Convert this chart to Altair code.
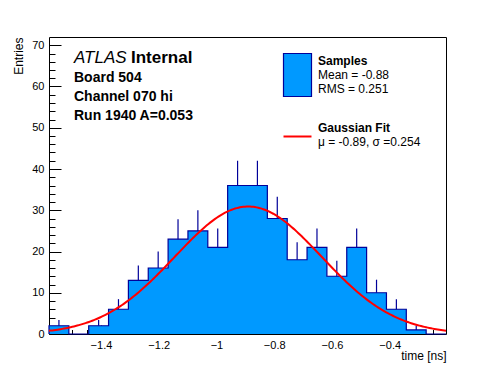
import altair as alt
import pandas as pd
import numpy as np

# ---------------- data ----------------
bin_start = -1.58
bin_width = 0.06875
counts = [2, 0, 2, 6, 13, 16, 23, 25, 21, 36, 36, 28, 18, 21, 14, 21, 10, 6, 1, 0]
x_domain = [-1.58, -0.205]
y_domain = [0, 72]

x_major = [-1.4, -1.2, -1.0, -0.8, -0.6, -0.4]
x_minor = [round(-1.55 + 0.05 * i, 2) for i in range(27)]
y_major = [0, 10, 20, 30, 40, 50, 60, 70]
y_minor = list(range(0, 72, 2))

fit_mu = -0.89
fit_sigma = 0.254
fit_amp = 30.9

header_lines = ["Board 504", "Channel 070 hi", "Run 1940 A=0.053"]
legend_hist = ["Samples", "Mean = -0.88", "RMS = 0.251"]
legend_fit = ["Gaussian Fit", "\u03bc = -0.89, \u03c3 =0.254"]

# ---------------- tables ----------------
n = len(counts)
edges = [bin_start + bin_width * i for i in range(n + 1)]
hist = pd.DataFrame({
    "lo": edges[:-1],
    "hi": edges[1:],
    "mid": [(a + b) / 2 for a, b in zip(edges[:-1], edges[1:])],
    "count": counts,
})
hist["err_top"] = hist["count"] + np.sqrt(hist["count"])

# area (step-after) table: one point per bin edge
area_df = pd.DataFrame({"x": edges, "y": counts + [counts[-1]]})

# outline table: starts from zero at the left edge, drops to zero at the right
step = pd.DataFrame({
    "x": [edges[0]] + edges[:-1] + [edges[-1]],
    "y": [0] + counts + [0],
    "o": list(range(n + 2)),
})

gx = np.linspace(x_domain[0], x_domain[1], 240)
gauss = pd.DataFrame({
    "x": gx,
    "y": fit_amp * np.exp(-((gx - fit_mu) ** 2) / (2 * fit_sigma ** 2)),
})

W, H = 397, 297
FONT = "Liberation Sans"
BLUE = "#0099ff"
DARK = "#000099"

xs = alt.Scale(domain=x_domain, nice=False, zero=False)
ys = alt.Scale(domain=y_domain, nice=False, zero=True)

# fill (single step area) + label axes
fill = alt.Chart(area_df).mark_area(color=BLUE, interpolate="step-after", opacity=1).encode(
    x=alt.X("x:Q", scale=xs, axis=alt.Axis(
        orient="bottom", values=x_major, format="~g", ticks=False, tickSize=0,
        domain=False, grid=False, labelFont=FONT, labelFontSize=11,
        labelColor="black", labelPadding=5,
        title="time [ns]", titleFont=FONT, titleFontSize=12, titleFontWeight="normal",
        titleColor="black", titleX=W, titleY=25, titleAlign="right",
        titleBaseline="alphabetic")),
    y=alt.Y("y:Q", scale=ys, axis=alt.Axis(
        orient="left", values=y_major, ticks=False, tickSize=0, domain=False,
        grid=False, labelFont=FONT, labelFontSize=11, labelColor="black",
        labelPadding=5,
        title="Entries", titleFont=FONT, titleFontSize=12, titleFontWeight="normal",
        titleColor="black", titleX=-27, titleY=0, titleAlign="right",
        titleAngle=270, titleBaseline="alphabetic")),
)

# outline + major inward ticks
outline = alt.Chart(step).mark_line(
    color=DARK, strokeWidth=1.2, interpolate="step-after").encode(
    x=alt.X("x:Q", scale=xs, axis=alt.Axis(
        orient="top", offset=-H, values=x_major, labels=False, domain=False,
        grid=False, tickSize=9, tickColor="black", title=None)),
    y=alt.Y("y:Q", scale=ys, axis=alt.Axis(
        orient="right", offset=-W, values=y_major, labels=False, domain=False,
        grid=False, tickSize=12, tickColor="black", title=None)),
    order="o:Q",
)

# error bars + minor inward ticks
errs = alt.Chart(hist[hist["count"] > 0]).mark_rule(color=DARK, strokeWidth=1.2).encode(
    x=alt.X("mid:Q", scale=xs, axis=alt.Axis(
        orient="top", offset=-H, values=x_minor, labels=False, domain=False,
        grid=False, tickSize=4.5, tickColor="black", title=None)),
    y=alt.Y("count:Q", scale=ys, axis=alt.Axis(
        orient="right", offset=-W, values=y_minor, labels=False, domain=False,
        grid=False, tickSize=6, tickColor="black", title=None)),
    y2="err_top:Q",
)

fit = alt.Chart(gauss).mark_line(color="#ff0000", strokeWidth=2).encode(
    x=alt.X("x:Q", scale=xs, axis=None),
    y=alt.Y("y:Q", scale=ys, axis=None),
)


def label(text, x, y, size, weight="normal", style="normal", align="left"):
    return alt.Chart(pd.DataFrame({"t": [text]})).mark_text(
        font=FONT, fontSize=size, fontWeight=weight, fontStyle=style,
        align=align, baseline="alphabetic", color="black").encode(
        text="t:N", x=alt.value(x), y=alt.value(y))


texts = [
    label("ATLAS", 25, 25.5, 17, style="italic"),
    label("Internal", 82, 25.5, 17, weight="bold"),
    label(header_lines[0], 25, 44.7, 14, weight="bold"),
    label(header_lines[1], 25, 64, 14, weight="bold"),
    label(header_lines[2], 25, 83, 14, weight="bold"),
    label(legend_hist[0], 269, 28, 12, weight="bold"),
    label(legend_hist[1], 269, 42.3, 12),
    label(legend_hist[2], 269, 56.3, 12),
    label(legend_fit[0], 269, 95, 12, weight="bold"),
    label(legend_fit[1], 269, 108.5, 12),
]

swatch = alt.Chart(pd.DataFrame({"k": [0]})).mark_rect(
    color=BLUE, stroke=DARK, strokeWidth=1.2).encode(
    x=alt.value(234.5), x2=alt.value(262.5), y=alt.value(16.5), y2=alt.value(59.5))

redline = alt.Chart(pd.DataFrame({"k": [0]})).mark_rule(
    color="#ff0000", strokeWidth=2).encode(
    x=alt.value(234.5), x2=alt.value(262.5), y=alt.value(99.5))

chart = alt.layer(fill, outline, errs, fit, swatch, redline, *texts).resolve_axis(
    x="independent", y="independent"
).properties(
    width=W, height=H,
    padding={"left": 41, "top": 29, "right": 42, "bottom": 30},
    autosize=alt.AutoSizeParams(type="none"),
    background="white",
).configure_view(stroke="black", strokeWidth=1)

chart.save("out.html", embed_options={"renderer": "svg", "actions": False})
